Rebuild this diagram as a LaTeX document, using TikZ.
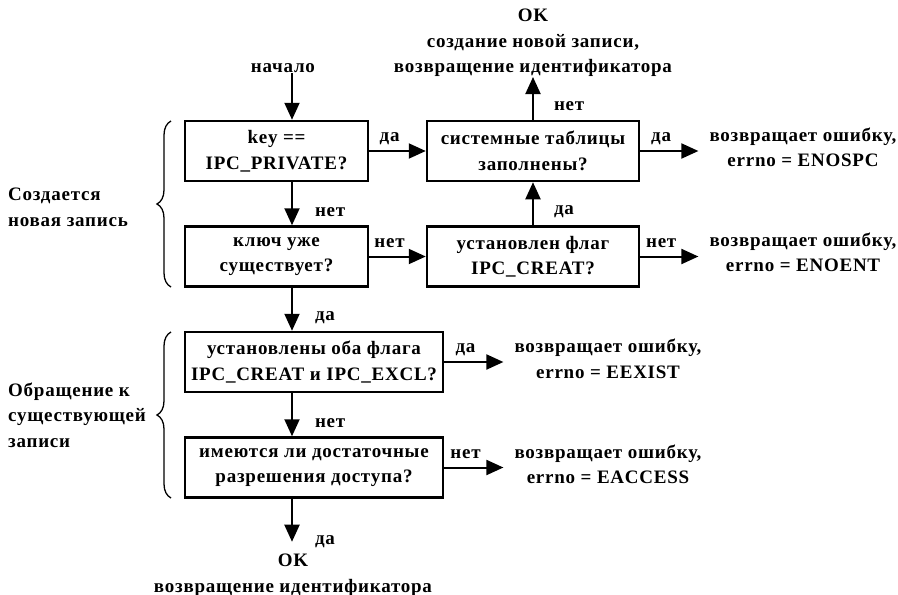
\documentclass[tikz,border=0pt]{standalone}
\usepackage{fontspec}
\setmainfont{Liberation Serif}[LetterSpace=4]
\usetikzlibrary{arrows.meta,decorations.pathreplacing}

\begin{document}
\begin{tikzpicture}[x=1pt,y=-1pt,
  font=\fontsize{19}{25.5}\selectfont\bfseries,
  box/.style={draw, line width=2.5pt, minimum width=#1, minimum height=60pt,
              align=center, inner sep=0pt},
  flow/.style={line width=2pt, -{Triangle[length=17pt,width=15pt]}},
  vlbl/.style={inner sep=0pt, anchor=west, xshift=22pt},
  hlbl/.style={inner sep=0pt, pos=0.36, anchor=base, yshift=9.5pt},
  note/.style={align=center, inner sep=0pt},
  errnote/.style={align=center, inner xsep=11pt, inner ysep=0pt},
  grp/.style={decorate, decoration={brace, amplitude=14pt}, line width=1.3pt}
]
\useasboundingbox (0,0) rectangle (898,595);

% decision boxes
\node[box=183pt] (b1) at (276.5,151)   {key ==\\IPC\_PRIVATE?};
\node[box=183pt] (b2) at (276.5,256.5) {ключ уже\\существует?};
\node[box=212pt] (b3) at (533,151)     {системные таблицы\\заполнены?};
\node[box=212pt] (b4) at (533,256.5)   {установлен флаг\\IPC\_CREAT?};
\node[box=258pt] (b5) at (314,362)     {установлены оба флага\\IPC\_CREAT и IPC\_EXCL?};
\node[box=258pt] (b6) at (314,467.5)   {имеются ли достаточные\\разрешения доступа?};

% entry, results and error messages
\node[note] (start) at (283,68) {начало};
\node[note] (ok1) at (533,43) {OK\\создание новой записи,\\возвращение идентификатора};
\node[note] (ok2) at (293,575) {OK\\возвращение идентификатора};
\node[errnote] (err1) at (803,147.5) {возвращает ошибку,\\errno = ENOSPC};
\node[errnote] (err2) at (803,252.5) {возвращает ошибку,\\errno = ENOENT};
\node[errnote] (err3) at (608,359)   {возвращает ошибку,\\errno = EEXIST};
\node[errnote] (err4) at (608,464.5) {возвращает ошибку,\\errno = EACCESS};

% group labels with braces
\node[note, align=left, anchor=west] (g1) at (8,207.5) {Создается\\новая запись};
\node[note, align=left, anchor=west] (g2) at (8,415) {Обращение к\\существующей\\записи};
\coordinate (brA1) at (171,287);
\coordinate (brA2) at (171,121);
\coordinate (brB1) at (171,498);
\coordinate (brB2) at (171,332);
\draw[grp] (brA1) -- (brA2);
\draw[grp] (brB1) -- (brB2);

% main vertical flow
\coordinate (axis) at (292,0);
\draw[flow] (start.south -| axis) -- (b1.north -| axis);
\draw[flow] (b1.south -| axis) -- node[vlbl, pos=0.69] {нет} (b2.north -| axis);
\draw[flow] (b2.south -| axis) -- node[vlbl, pos=0.69] {да} (b5.north -| axis);
\draw[flow] (b5.south -| axis) -- node[vlbl, pos=0.69] {нет} (b6.north -| axis);
\draw[flow, shorten >=12pt] (b6.south -| axis) -- node[vlbl, pos=0.78] {да} (ok2.north -| axis);

% right column
\draw[flow] (b1.east) -- node[hlbl] {да} (b3.west);
\draw[flow] (b2.east) -- node[hlbl] {нет} (b4.west);
\draw[flow] (b4.north) -- node[vlbl, pos=0.31, xshift=-2pt] {да} (b3.south);
\draw[flow] (b3.north) -- node[vlbl, pos=0.32, xshift=-2pt] {нет} (ok1.south);

% error exits
\draw[flow] (b3.east) -- node[hlbl] {да} (b3.east -| err1.west);
\draw[flow] (b4.east) -- node[hlbl] {нет} (b4.east -| err2.west);
\draw[flow] (b5.east) -- node[hlbl] {да} (b5.east -| err3.west);
\draw[flow] (b6.east) -- node[hlbl] {нет} (b6.east -| err4.west);
\end{tikzpicture}
\end{document}
